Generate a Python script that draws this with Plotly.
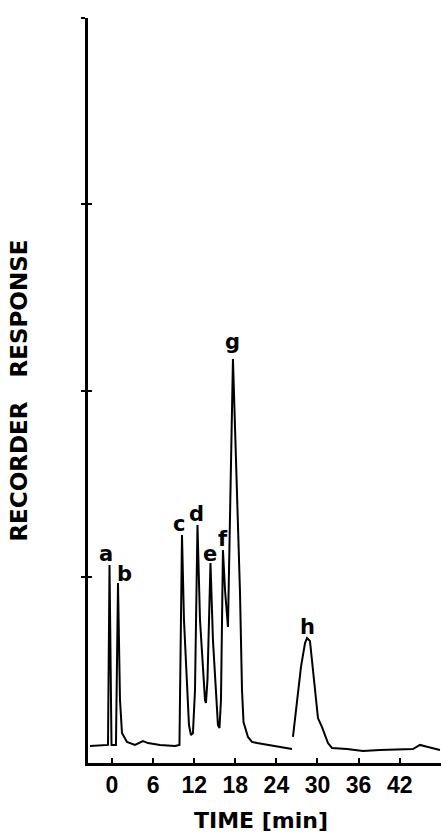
import plotly.graph_objects as go

# Chromatogram trace (time in min, recorder response in arbitrary units)
time_min = [-3.21, -1.02, -0.58, -0.36, -0.07, 0.58, 0.88, 1.17, 1.46, 2.19, 3.36, 4.53, 5.26, 7.01, 9.20,
            9.85, 10.22, 10.51, 11.24, 11.53, 11.82, 12.12, 12.48, 12.85, 13.58, 13.72, 13.94, 14.38, 14.74,
            15.47, 15.69, 15.91, 16.20, 16.50, 16.93, 17.66, 18.10, 18.69, 18.98, 19.20, 19.85, 20.44, 21.17,
            22.63, 24.53, 26.28, None,
            26.42, 27.01, 27.59, 28.18, 28.47, 28.90, 29.35, 30.07, 30.66, 31.53, 32.12, 34.31, 36.64, 39.12,
            43.94, 44.96, 46.13, 47.88]
response = [0.091, 0.097, 0.097, 1.063, 0.097, 0.097, 0.966, 0.338, 0.161, 0.113, 0.097, 0.118, 0.107, 0.097, 0.091,
            0.097, 1.224, 0.768, 0.204, 0.150, 0.161, 0.392, 1.278, 0.768, 0.338, 0.322, 0.446, 1.074, 0.660,
            0.204, 0.188, 0.338, 1.144, 0.929, 0.730, 2.169, 1.627, 0.913, 0.392, 0.220, 0.140, 0.113, 0.107,
            0.097, 0.086, 0.075, None,
            0.140, 0.338, 0.516, 0.644, 0.671, 0.655, 0.499, 0.241, 0.193, 0.107, 0.081, 0.075, 0.064, 0.070,
            0.075, 0.097, 0.086, 0.070]

# Peak labels
peak_labels = ["a", "b", "c", "d", "e", "f", "g", "h"]
label_time = [-0.88, 1.90, 9.78, 12.41, 14.31, 16.20, 17.66, 28.47]
label_resp = [1.122, 1.015, 1.283, 1.337, 1.122, 1.203, 2.260, 0.730]

x_ticks = [0, 6, 12, 18, 24, 30, 36, 42]
y_ticks = [1, 2, 3, 4]

fig = go.Figure()
fig.add_trace(go.Scatter(x=time_min, y=response, mode="lines",
                         line=dict(color="black", width=2), connectgaps=False,
                         hoverinfo="skip", showlegend=False))
# invisible trace to activate the overlay y axis (for crossing tick marks)
fig.add_trace(go.Scatter(x=[None], y=[None], yaxis="y2", showlegend=False, hoverinfo="skip"))

for t, xv, yv in zip(peak_labels, label_time, label_resp):
    fig.add_annotation(x=xv, y=yv, text="<b>" + t + "</b>", showarrow=False, xanchor="center", yanchor="middle",
                       font=dict(family="DejaVu Sans", size=21, color="black"))

fig.add_annotation(x=0.49, y=-0.077, xref="paper", yref="paper", text="<b>TIME [min]</b>", showarrow=False,
                   xanchor="center", yanchor="middle",
                   font=dict(family="DejaVu Sans", size=22, color="black"))
fig.add_annotation(x=-0.198, y=0.50, xref="paper", yref="paper",
                   text="<b>RECORDER\u00a0\u00a0\u00a0RESPONSE</b>", showarrow=False, textangle=-90,
                   xanchor="center", yanchor="middle",
                   font=dict(family="DejaVu Sans", size=23, color="black"))

fig.update_layout(
    width=441, height=836,
    margin=dict(l=88, r=0, t=18, b=73),
    paper_bgcolor="white", plot_bgcolor="white",
    xaxis=dict(range=[-3.5, 48.03], tickvals=x_ticks, ticktext=["<b>%d</b>" % v for v in x_ticks],
               ticks="inside", ticklen=5, tickwidth=2, tickcolor="black",
               showline=True, linecolor="black", linewidth=2.5, showgrid=False, zeroline=False,
               tickfont=dict(family="Liberation Sans", size=23, color="black")),
    yaxis=dict(range=[0, 4], tickvals=y_ticks, showticklabels=False,
               ticks="outside", ticklen=4, tickwidth=2, tickcolor="black",
               showline=True, linecolor="black", linewidth=2.5, showgrid=False, zeroline=False),
    yaxis2=dict(range=[0, 4], overlaying="y", side="left", tickvals=y_ticks, showticklabels=False,
                ticks="inside", ticklen=4, tickwidth=2, tickcolor="black",
                showline=False, showgrid=False, zeroline=False),
)

fig.write_html("out.html", config={"displayModeBar": False},
               post_script="document.body.style.margin='0';")
